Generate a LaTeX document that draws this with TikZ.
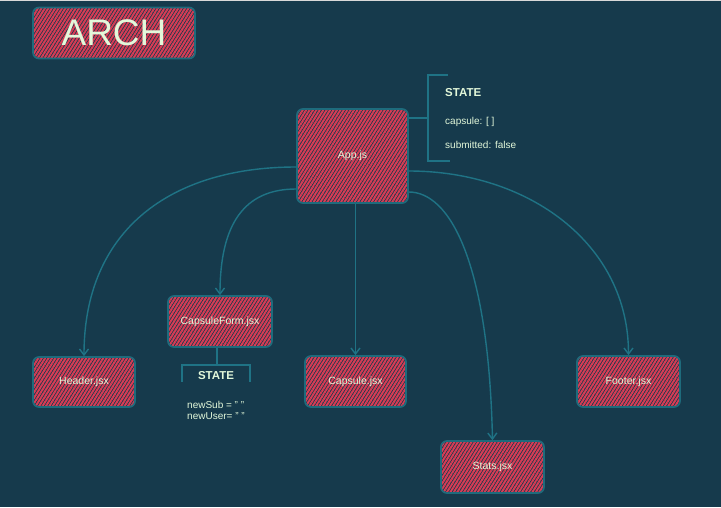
\documentclass[tikz,border=0pt]{standalone}
\usepackage{fontspec}
\setmainfont{Liberation Sans}
\usetikzlibrary{arrows.meta,patterns.meta}
\definecolor{bg}{HTML}{163A4C}
\definecolor{boxred}{HTML}{D93C55}
\definecolor{edge}{HTML}{1E6B7C}
\definecolor{conn}{HTML}{1F7385}
\definecolor{txt}{HTML}{E2F8DA}
\tikzset{
  box/.style={draw=edge, line width=1.7pt, rounded corners=6pt,
    pattern={Lines[angle=58,distance=2.9pt,line width=2pt]}, pattern color=boxred,
    text=txt, font=\fontsize{10.5}{12}\selectfont, inner sep=0pt},
  arr/.style={draw=conn, line width=1.4pt, -{Straight Barb[length=6pt,width=9pt]}},
  brk/.style={draw=conn, line width=2.4pt},
  lbl/.style={text=txt, inner sep=0pt, anchor=west, font=\fontsize{10}{12}\selectfont},
  hdr/.style={text=txt, inner sep=0pt, font=\bfseries\fontsize{11.5}{13}\selectfont},
}
\begin{document}
\begin{tikzpicture}[x=1pt,y=-1pt]
\fill[bg] (0,0) rectangle (721,507);
\fill[black!15] (0,0) rectangle (721,1.2);

% nodes
\node[box, minimum width=162pt, minimum height=51pt, font=\fontsize{37}{40}\selectfont] (arch) at (114,33) {ARCH};
\node[box, minimum width=111pt, minimum height=94pt] (app) at (352.5,156) {App.js};
\node[box, minimum width=104pt, minimum height=51pt] (cform) at (220,321.5) {CapsuleForm.jsx};
\node[box, minimum width=102pt, minimum height=50pt] (header) at (84,382) {Header.jsx};
\node[box, minimum width=101pt, minimum height=51pt] (capsule) at (355.5,381.5) {Capsule.jsx};
\node[box, minimum width=103pt, minimum height=51pt] (footer) at (628.5,381.5) {Footer.jsx};
\node[box, minimum width=103pt, minimum height=52pt] (stats) at (492.5,467) {Stats.jsx};

% top-right state
\coordinate (brkR) at (428,118);
\draw[brk] (448,75) -- (428,75) -- (428,161) -- (450,161);
\draw[brk] ([yshift=38pt]app.east) -- (brkR);
\node[hdr, anchor=west] (st1) at (445,93) {STATE};
\node[lbl] (s1a) at (445,122) {capsule: [ ]};
\node[lbl] (s1b) at (445,145) {submitted: false};

% lower state
\coordinate (brkL) at (217,365);
\draw[brk, line width=2.2pt] (cform.south -| brkL) -- (brkL);
\draw[brk, line width=2.2pt] (182,382) -- (182,365) -- (250,365) -- (250,382);
\node[hdr] (st2) at (216,376) {STATE};
\node[lbl] (s2a) at (187,404.5) {newSub = " "};
\node[lbl] (s2b) at (187,416) {newUser= " "};

% connectors
\draw[arr] ([yshift=-11pt]app.west) .. controls +(-127,0) and +(0,-125) .. (header.north);
\draw[arr] ([yshift=-33pt]app.west) .. controls +(-52,0) and +(0,-71) .. (cform.north);
\draw[arr] (app.south -| capsule.north) -- (capsule.north);
\draw[arr] ([yshift=-36pt]app.east) .. controls +(40,0) and +(-4,-181) .. (stats.north);
\draw[arr] ([yshift=-15pt]app.east) .. controls +(120,0) and +(0,-111) .. (footer.north);
\end{tikzpicture}
\end{document}
